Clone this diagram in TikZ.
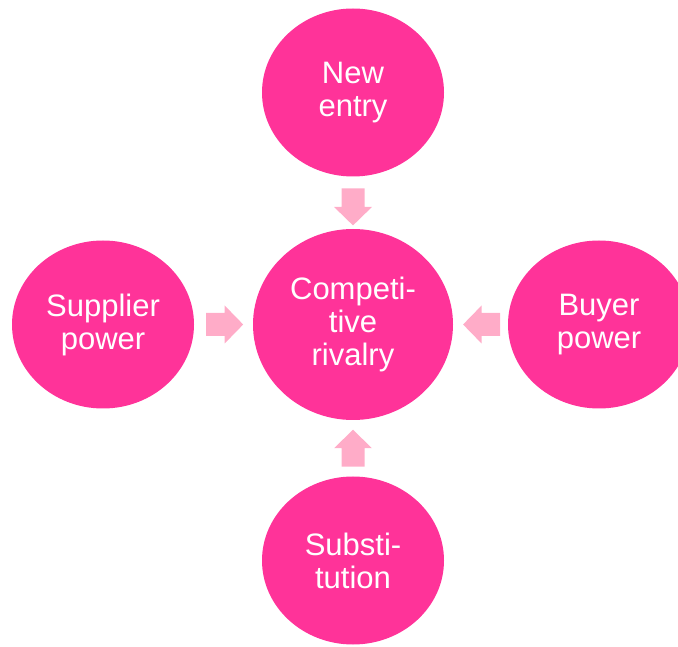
\documentclass[tikz,border=0pt]{standalone}
\usepackage{fontspec}
\setmainfont{Liberation Sans}
\usetikzlibrary{shapes.geometric, positioning, calc}

\definecolor{forcepink}{RGB}{255,51,153}
\definecolor{pushpink}{RGB}{255,172,200}

\begin{document}
\begin{tikzpicture}[
  x=1pt, y=1pt,
  force/.style={ellipse, fill=forcepink, text=white, inner sep=0pt, align=center,
    minimum width=182pt, minimum height=168pt, font=\fontsize{31}{33}\selectfont},
  rivalnode/.style={force, minimum width=200pt, minimum height=191pt},
  push/.style={fill=pushpink}
]
\useasboundingbox (0,0) rectangle (678,646);

% Centre force
\node[rivalnode] (rival) at (353,321.5) {Competi-\\tive\\rivalry};

% Outer forces
\node[force, above of=rival, node distance=232pt] (entry) {New\\entry};
\node[force, below of=rival, node distance=236pt] (subst) {Substi-\\tution};
\node[force, left of=rival, node distance=250pt] (supplier) {Supplier\\power};
\node[force, right of=rival, node distance=246pt] (buyer) {Buyer\\power};

% Block arrows
\coordinate (pentry) at ($(entry.south)!0.58!(rival.north)$);
\coordinate (psubst) at ($(subst.north)!0.5!(rival.south)$);
\coordinate (psupplier) at ($(supplier.east)!0.52!(rival.west)$);
\coordinate (pbuyer) at ($(buyer.west)!0.48!(rival.east)$);
\foreach \p/\ang in {pentry/270, psubst/90, psupplier/0, pbuyer/180}
  \fill[push, shift={(\p)}, rotate=\ang]
    (-18.5,-11.5) -- (0,-11.5) -- (0,-19) -- (18.5,0) -- (0,19) -- (0,11.5) -- (-18.5,11.5) -- cycle;

\end{tikzpicture}
\end{document}
